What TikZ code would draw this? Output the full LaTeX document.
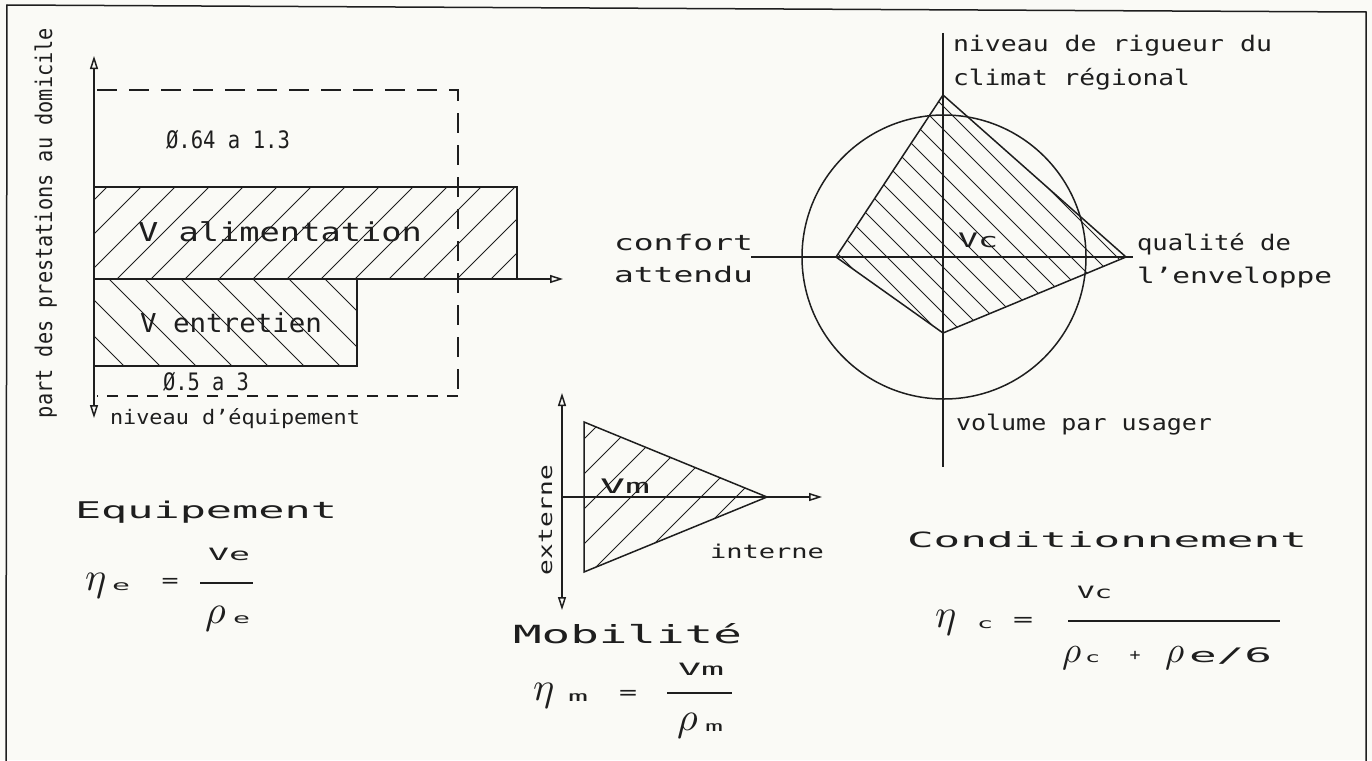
\documentclass[tikz,border=0pt]{standalone}
\usepackage{fontspec}
\usepackage{graphicx}
\usetikzlibrary{arrows.meta}
\newfontfamily\plot{DejaVu Sans Mono}
\definecolor{paper}{RGB}{250,250,246}
\definecolor{ink}{RGB}{30,30,30}
\newlength\plotw
\newcommand\fitx[3]{\settowidth\plotw{\fontsize{#2}{#2}\selectfont\plot #3}\pgfmathsetmacro\hsc{#1/\plotw}\scalebox{\hsc}[1]{\fontsize{#2}{#2}\selectfont\plot #3}}
\newcommand\gk[2]{\scalebox{#1}{$#2$}}
\begin{document}
\begin{tikzpicture}[x=1pt,y=-1pt,
 ln/.style={draw=ink, line width=1.5pt},
 hatch/.style={draw=ink, line width=0.9pt},
 dsh/.style={draw=ink, line width=1.5pt, dash pattern=on 20pt off 12pt},
 dshb/.style={draw=ink, line width=1.5pt, dash pattern=on 11pt off 9pt},
 lbl/.style={inner sep=0pt, outer sep=0pt, anchor=base west, text=ink},
 eq/.style={inner sep=0pt, outer sep=0pt, anchor=center, text=ink},
 >={Triangle[open,length=13pt,width=8pt]},
]
\useasboundingbox (0,0) rectangle (1372,760);
\fill[paper] (0,0) rectangle (1372,760);
% frame
\coordinate (F1) at (6,765);
\coordinate (F2) at (7,5);
\coordinate (F3) at (1366,12);
\coordinate (F4) at (1366,765);
\draw[ln] (F1) -- (F2) -- (F3) -- (F4);

% ===== left diagram =====
\begin{scope}
\clip (94,187) rectangle (517,279);
\foreach \k in {-16,...,1} {\pgfmathsetmacro\c{770+34*\k}
 \draw[hatch] ({\c-400},400) -- ({\c-100},100);}
\end{scope}
\begin{scope}
\clip (94,279) rectangle (357,366);
\foreach \k in {-2,...,10} {\pgfmathsetmacro\c{-242+36*\k}
 \draw[hatch] ({\c+250},250) -- ({\c+400},400);}
\end{scope}
\draw[ln] (94,187) rectangle (517,279);
\draw[ln] (94,279) rectangle (357,366);
\coordinate (D1) at (97,90);
\coordinate (D2) at (458,90);
\coordinate (D3) at (458,396);
\coordinate (D4) at (97,396);
\draw[dsh] (D1) -- (D2) -- (D3);
\draw[dshb] (D3) -- (D4);
\coordinate (LO) at (94,279);
\coordinate (LT) at (94,56);
\coordinate (LB) at (94,418);
\coordinate (LR) at (563,279);
\draw[ln,<->] (LB) -- (LT);
\draw[ln,->] (LO) -- (LR);

\node[lbl] (t064) at (166,148) {\fitx{124}{24}{Ø.64 a 1.3}};
\node[lbl] (talim) at (138,241) {\fitx{284}{26}{V alimentation}};
\node[lbl] (tentr) at (140,332) {\fitx{182}{26}{V entretien}};
\node[lbl] (t053) at (163,390) {\fitx{86}{24}{Ø.5 a 3}};
\node[lbl] (tniv) at (110,424) {\fitx{250}{20}{niveau d’équipement}};
\node[lbl, rotate=90] (tpart) at (52,418) {\fitx{390}{23}{part des prestations au domicile}};

% Equipement formula
\node[lbl] (teq) at (75,518) {\fitx{262}{23}{Equipement}};
\node[lbl] (eeta) at (85,590) {\gk{4}{\eta}};
\node[lbl] (ee) at (112,590) {\fitx{18}{14}{e}};
\node[eq] (eeq) at (170,583) {\fitx{17}{20}{=}};
\coordinate (EL1) at (200,583);
\coordinate (EL2) at (253,583);
\draw[ln] (EL1) -- (EL2);
\node[lbl] (eVe) at (208,560) {\fitx{42}{17}{Ve}};
\node[lbl] (erho) at (205,623) {\gk{4}{\rho}};
\node[lbl] (ee2) at (233,623) {\fitx{17}{14}{e}};

% ===== middle diagram =====
\begin{scope}
\clip (584,422) -- (767,497) -- (584,572) -- cycle;
\foreach \k in {-6,...,4} {\pgfmathsetmacro\c{1163+35*\k}
 \draw[hatch] ({\c-380},380) -- ({\c-620},620);}
\end{scope}
\draw[ln] (584,422) -- (767,497) -- (584,572) -- cycle;
\coordinate (MO) at (562,497);
\coordinate (MT) at (562,393);
\coordinate (MB) at (562,610);
\coordinate (MR) at (822,497);
\draw[ln,<->] (MB) -- (MT);
\draw[ln,->] (MO) -- (MR);
\node[lbl] (tVm) at (600,493) {\fitx{50}{20}{Vm}};
\node[lbl, rotate=90] (text) at (552,575) {\fitx{110}{19}{externe}};
\node[lbl] (tint) at (710,558) {\fitx{114}{19}{interne}};
\node[lbl] (tmob) at (513,643) {\fitx{229}{25}{Mobilité}};
\node[lbl] (meta) at (533,700) {\gk{4}{\eta}};
\node[lbl] (mm) at (568,701) {\fitx{20}{14}{m}};
\node[eq] (meq) at (628,695) {\fitx{18}{20}{=}};
\coordinate (ML1) at (667,693);
\coordinate (ML2) at (732,693);
\draw[ln] (ML1) -- (ML2);
\node[lbl] (mVm) at (678,675) {\fitx{46}{17}{Vm}};
\node[lbl] (mrho) at (677,730) {\gk{4}{\rho}};
\node[lbl] (mm2) at (705,731) {\fitx{18}{14}{m}};

% ===== right diagram =====
\begin{scope}
\clip (943,95) -- (1126,257) -- (943,333) -- (836,257) -- cycle;
\foreach \k in {-15,...,11} {\pgfmathsetmacro\c{814+23*\k}
 \draw[hatch] ({\c+50},50) -- ({\c+400},400);}
\end{scope}
\draw[ln] (944,257) circle[radius=142pt];
\draw[ln] (943,95) -- (1126,257) -- (943,333) -- (836,257) -- cycle;
\coordinate (RT) at (943,33);
\coordinate (RB) at (943,467);
\coordinate (RL) at (751,257);
\coordinate (RR) at (1133,257);
\draw[ln] (RT) -- (RB);
\draw[ln] (RL) -- (RR);
\node[lbl] (tnr) at (953,52) {\fitx{319}{21.5}{niveau de rigueur du}};
\node[lbl] (tcr) at (953,85) {\fitx{237}{21.5}{climat régional}};
\node[lbl] (tconf) at (614,250) {\fitx{139}{21.5}{confort}};
\node[lbl] (tatt) at (614,282) {\fitx{139}{21.5}{attendu}};
\node[lbl] (tqual) at (1137,250) {\fitx{154}{21.5}{qualité de}};
\node[lbl] (tenv) at (1137,283) {\fitx{195}{21.5}{l’enveloppe}};
\node[lbl] (tvol) at (956,430) {\fitx{256}{21.5}{volume par usager}};
\node[lbl] (tVc) at (958,247) {\fitx{40}{20}{Vc}};

% Conditionnement formula
\node[lbl] (tcond) at (907,547) {\fitx{400}{21}{Conditionnement}};
\node[lbl] (ceta) at (935,627) {\gk{4}{\eta}};
\node[lbl] (cc) at (977,628) {\fitx{16}{14}{c}};
\node[eq] (ceq) at (1023,622) {\fitx{20}{20}{=}};
\coordinate (CL1) at (1068,621);
\coordinate (CL2) at (1280,621);
\draw[ln] (CL1) -- (CL2);
\node[lbl] (cVc) at (1077,598) {\fitx{35}{17}{Vc}};
\node[lbl] (crho1) at (1062,662) {\gk{3.7}{\rho}};
\node[lbl] (cc2) at (1085,662) {\fitx{15}{14}{c}};
\node[eq] (cplus) at (1135,656) {\fitx{11}{16}{+}};
\node[lbl] (crho2) at (1165,662) {\gk{3.7}{\rho}};
\node[lbl] (ce6) at (1189,662) {\fitx{83}{20}{e/6}};
\end{tikzpicture}
\end{document}
